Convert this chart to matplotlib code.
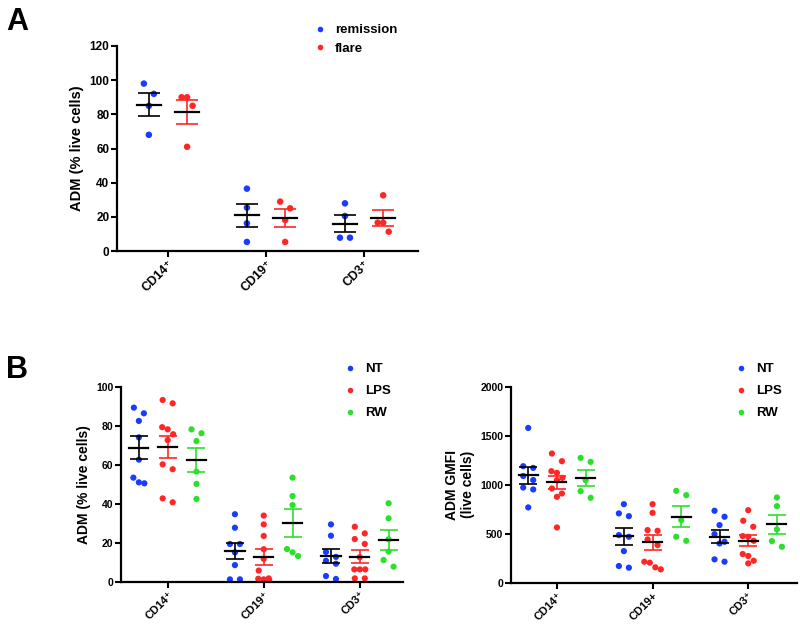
import numpy as np
import matplotlib
matplotlib.use("Agg")
import matplotlib.pyplot as plt
from matplotlib.lines import Line2D

plt.rcParams['font.family'] = ['Liberation Sans', 'DejaVu Sans']
plt.rcParams['font.weight'] = 'bold'

# ---------------- data ----------------
cats_a = ['CD14\u207a', 'CD19\u207a', 'CD3\u207a']
remission = [[98, 92, 85, 68], [36.5, 25.4, 16.2, 5.3], [27.9, 20.5, 7.8, 7.8]]
flare = [[90, 90, 85, 61], [28.9, 25, 18.1, 5.3], [32.6, 16.6, 16.6, 11.3]]

cats_b1 = ['CD14\u207a', 'CD19\u207a', 'CD3\u207a']
nt_pct = [[89.3, 86.4, 82.5, 74.1, 62.7, 53.5, 50.6, 51.1],
          [34.8, 27.9, 19.6, 19.6, 15.3, 8.8, 1.5, 1.5],
          [29.6, 23.8, 15.5, 13, 11, 9.5, 3.2, 1.7]]
lps_pct = [[91.5, 93.2, 79.3, 78.2, 75.7, 72.7, 60.3, 57.8, 40.9, 42.9],
           [34.1, 29.6, 23.7, 16.9, 12, 6, 2, 1.5, 1.8, 1.2],
           [28.4, 25, 22.1, 19.6, 12.8, 6.6, 6.6, 6.6, 2, 2]]
rw_pct = [[76.2, 78.2, 72.2, 56.6, 50.3, 42.6],
          [53.5, 44.1, 39.5, 17, 15.3, 13.4],
          [40.4, 32.7, 22, 15.7, 11.4, 8.0]]

cats_b2 = ['CD14\u207a', 'CD19+', 'CD3\u207a']
nt_gmfi = [[1580, 1190, 1173, 1090, 1049, 973, 953, 770],
           [803, 709, 681, 488, 471, 325, 173, 156],
           [736, 675, 590, 498, 420, 403, 241, 217]]
lps_gmfi = [[1319, 1241, 1139, 1122, 1071, 1048, 963, 912, 878, 566],
            [803, 715, 539, 532, 444, 386, 217, 207, 160, 139],
            [742, 634, 573, 478, 471, 430, 295, 275, 227, 200]]
rw_gmfi = [[1275, 1234, 1048, 936, 868],
           [939, 895, 641, 471, 430],
           [871, 783, 546, 427, 369]]

BLUE = '#1a3cff'
RED = '#ff2626'
GREEN = '#2be02b'

W, H = 800, 634
fig = plt.figure(figsize=(W / 100, H / 100), dpi=100)


def px_axes(l, t, r, b):
    return fig.add_axes([l / W, 1 - b / H, (r - l) / W, (b - t) / H])


def style(ax, ylim, yticks, cats, xlim, ylabel, fs_tick, fs_xtick, fs_lab):
    ax.set_ylim(*ylim)
    ax.set_xlim(*xlim)
    ax.set_yticks(yticks)
    ax.set_xticks(range(len(cats)))
    ax.set_xticklabels(cats, rotation=45, ha='right', rotation_mode='anchor',
                       fontsize=fs_xtick, fontweight='bold')
    for lab in ax.get_yticklabels():
        lab.set_fontsize(fs_tick)
        lab.set_fontweight('bold')
    for s in ['top', 'right']:
        ax.spines[s].set_visible(False)
    for s in ['left', 'bottom']:
        ax.spines[s].set_linewidth(1.6)
    ax.tick_params(axis='both', width=1.5, length=4, pad=1.5)
    ax.set_ylabel(ylabel, fontsize=fs_lab, fontweight='bold')


def swarm_x(ax, x0, vals, row_px):
    vals = np.asarray(vals, float)
    tr = ax.transData
    pts = tr.transform(np.column_stack([np.full(len(vals), x0), vals]))
    ypix = pts[:, 1]
    x0pix = pts[0, 0]
    order = np.argsort(-ypix, kind='stable')
    rows, cur, start = [], [], None
    for i in order:
        if cur and start - ypix[i] < row_px:
            cur.append(i)
        else:
            if cur:
                rows.append(cur)
            cur = [i]
            start = ypix[i]
    rows.append(cur)
    off = np.zeros(len(vals))
    for r in rows:
        n = len(r)
        step = 10.0 if n == 2 else 5.5
        for k, i in enumerate(r):
            off[i] = (k - (n - 1) / 2) * step
    inv = tr.inverted()
    return inv.transform(np.column_stack([x0pix + off, ypix]))[:, 0]


def draw_group(ax, x0, vals, color, ebcolor, half, cap, ms, row_px):
    vals = np.asarray(vals, float)
    xs = swarm_x(ax, x0, vals, row_px)
    ax.scatter(xs, vals, s=ms, color=color, edgecolors='none', zorder=2)
    m = vals.mean()
    sem = vals.std(ddof=1) / np.sqrt(len(vals))
    ax.errorbar([x0], [m], yerr=[sem], fmt='none', ecolor=ebcolor,
                elinewidth=1.2, capsize=cap, capthick=1.2, zorder=3)
    ax.plot([x0 - half, x0 + half], [m, m], color='black', lw=1.6, zorder=4)


# ---------------- Panel A ----------------
axA = px_axes(117, 46, 418, 251)
style(axA, (0, 120), np.arange(0, 121, 20), cats_a, (-0.52, 2.55),
      'ADM (% live cells)', 8.5, 9, 10.5)
for i in range(len(cats_a)):
    draw_group(axA, i - 0.195, remission[i], BLUE, 'black', 0.12, 8, 22, 11)
    draw_group(axA, i + 0.195, flare[i], RED, RED, 0.12, 8, 22, 11)
hA = [Line2D([], [], ls='none', marker='o', ms=4, color=BLUE, mec='none'),
      Line2D([], [], ls='none', marker='o', ms=4, color=RED, mec='none')]
fig.legend(hA, ['remission', 'flare'], loc='upper left',
           bbox_to_anchor=(315 / W, 1 - 24 / H), frameon=False,
           handlelength=0.8, handletextpad=0.7, labelspacing=0.5,
           borderpad=0, borderaxespad=0, prop={'weight': 'bold', 'size': 9.5})
fig.text(6 / W, 1 - 7 / H, 'A', fontsize=22, fontweight='bold', va='top', ha='left')

# ---------------- Panel B left ----------------
axB1 = px_axes(121, 386.7, 403, 582.3)
style(axB1, (0, 100), np.arange(0, 101, 20), cats_b1, (-0.486, 2.45),
      'ADM (% live cells)', 7.5, 8, 10)
for i in range(len(cats_b1)):
    draw_group(axB1, i - 0.3, nt_pct[i], BLUE, 'black', 0.1, 6.5, 20, 8)
    draw_group(axB1, i, lps_pct[i], RED, RED, 0.1, 6.5, 20, 8)
    draw_group(axB1, i + 0.3, rw_pct[i], GREEN, GREEN, 0.1, 6.5, 20, 8)

# ---------------- Panel B right ----------------
axB2 = px_axes(511, 386.7, 797, 583)
style(axB2, (0, 2000), np.arange(0, 2001, 500), cats_b2, (-0.48, 2.51),
      'ADM GMFI\n(live cells)', 7.5, 8, 10)
for i in range(len(cats_b2)):
    draw_group(axB2, i - 0.3, nt_gmfi[i], BLUE, 'black', 0.1, 6.5, 20, 8)
    draw_group(axB2, i, lps_gmfi[i], RED, RED, 0.1, 6.5, 20, 8)
    draw_group(axB2, i + 0.3, rw_gmfi[i], GREEN, GREEN, 0.1, 6.5, 20, 8)

hB = [Line2D([], [], ls='none', marker='o', ms=4, color=c, mec='none')
      for c in (BLUE, RED, GREEN)]
for xa in (345, 736):
    fig.legend(hB, ['NT', 'LPS', 'RW'], loc='upper left',
               bbox_to_anchor=(xa / W, 1 - 363 / H), frameon=False,
               handlelength=0.8, handletextpad=0.7, labelspacing=0.75,
               borderpad=0, borderaxespad=0, prop={'weight': 'bold', 'size': 9.5})
fig.text(6 / W, 1 - 355 / H, 'B', fontsize=22, fontweight='bold', va='top', ha='left')

fig.savefig('out.png', dpi=100)
